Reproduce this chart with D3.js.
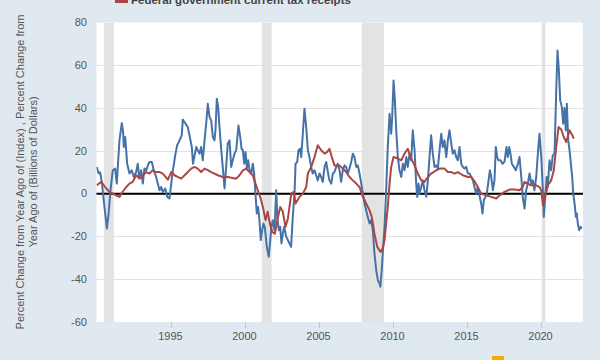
<!DOCTYPE html>
<html>
<head>
<meta charset="utf-8">
<script src="https://cdn.jsdelivr.net/npm/d3@7"></script>
<style>
  body { margin: 0; background: #e1e9f0; }
  svg { display: block; font-family: "Liberation Sans", Arial, sans-serif; }
</style>
</head>
<body>
<script>
// percent change from year ago, price index (monthly) [year, value]
const indexSeries = [
  [1990.02,12.5],[1990.14,9.5],[1990.24,10],[1990.37,5],[1990.47,-2],[1990.70,-16.3],[1990.81,-10],[1990.95,2],
  [1991.10,10.9],[1991.26,11.7],[1991.37,4.7],[1991.55,24.9],[1991.71,33],[1991.80,28.8],[1991.84,21.8],[1991.94,26.5],
  [1992.07,14],[1992.23,9.4],[1992.38,10.9],[1992.52,7.8],[1992.68,10.1],[1992.79,14],[1992.88,7.8],
  [1993.02,10.9],[1993.13,4.7],[1993.24,11.8],[1993.36,10.9],[1993.47,13.2],[1993.58,14.8],[1993.74,14.8],[1993.87,10.9],
  [1994.03,7.8],[1994.14,4.7],[1994.26,1.6],[1994.37,3.1],[1994.48,0.8],[1994.64,2.4],[1994.78,-1.5],[1994.93,-2.3],
  [1995.05,4.7],[1995.16,10.9],[1995.34,18.7],[1995.45,22.6],[1995.61,24.9],[1995.76,27.3],[1995.83,34.6],[1995.99,33],
  [1996.17,31],[1996.28,27.3],[1996.44,21.8],[1996.52,14],[1996.74,21.8],[1996.84,20.3],[1996.96,18.7],
  [1997.07,21.8],[1997.18,15.6],[1997.30,24.9],[1997.41,32.7],[1997.52,42],[1997.64,35.8],[1997.75,34.2],[1997.86,26.5],[1997.97,24.9],
  [1998.04,29.6],[1998.13,44.4],[1998.22,40.5],[1998.31,31.1],[1998.43,20.3],[1998.53,12.5],[1998.65,2.4],[1998.76,12.5],[1998.87,23.4],[1998.99,24.9],
  [1999.10,12.5],[1999.21,15.6],[1999.32,18.7],[1999.44,20.3],[1999.59,31.9],[1999.71,26.5],[1999.80,21],[1999.89,20.3],[1999.98,14],
  [2000.07,19.5],[2000.16,11.7],[2000.25,15.6],[2000.34,10.9],[2000.45,9.4],[2000.56,14],[2000.65,9.4],[2000.74,0],[2000.83,-9.3],[2000.92,-6.2],
  [2001.01,-12.4],[2001.10,-21.7],[2001.19,-17.1],[2001.28,-14],[2001.37,-15.5],[2001.51,-24.9],[2001.64,-29.5],[2001.74,-21.7],[2001.82,-15.5],[2001.91,-12.4],
  [2002.03,-17.1],[2002.14,1.6],[2002.23,-12.4],[2002.32,-17.1],[2002.41,-15.5],[2002.50,-23.3],[2002.59,-18.7],[2002.68,-15.5],[2002.82,-20.2],[2002.93,-21.7],
  [2003.04,-23.3],[2003.15,-24.9],[2003.26,-10.9],[2003.38,0],[2003.45,14],[2003.56,14.8],[2003.65,20.3],[2003.76,21],[2003.83,17.1],[2003.94,28],
  [2004.05,39.7],[2004.17,31.1],[2004.28,20.3],[2004.39,17.1],[2004.50,12.5],[2004.61,9.4],[2004.73,10.9],[2004.84,8.6],[2004.95,6.2],
  [2005.07,9.4],[2005.18,7.8],[2005.29,5.5],[2005.41,12.5],[2005.52,14.8],[2005.63,10.1],[2005.74,6.2],[2005.86,4.7],[2005.97,9.4],
  [2006.08,10.1],[2006.20,12.5],[2006.30,14],[2006.42,10.9],[2006.53,5.5],[2006.64,10.9],[2006.76,13.2],[2006.87,12.5],[2006.98,9.4],
  [2007.09,11.7],[2007.21,14.8],[2007.32,18.7],[2007.43,17.1],[2007.55,12.5],[2007.66,13.2],[2007.77,9.4],[2007.89,4.7],
  [2008.00,0],[2008.11,-4.6],[2008.22,-7.8],[2008.33,-10.9],[2008.45,-14],[2008.56,-12.4],[2008.67,-17.1],[2008.78,-28],[2008.90,-35.8],
  [2009.01,-40.4],[2009.12,-42],[2009.18,-43.5],[2009.27,-36],[2009.34,-28],[2009.46,-15.5],[2009.57,1.6],[2009.68,21.8],[2009.80,37.4],[2009.91,28],[2009.98,35.8],
  [2010.07,52.9],[2010.16,43.6],[2010.25,29.6],[2010.36,17.1],[2010.47,10.9],[2010.59,7.8],[2010.70,14],[2010.81,10.9],[2010.93,17.1],
  [2011.03,12.5],[2011.15,18.7],[2011.26,15.6],[2011.37,29.6],[2011.49,20.3],[2011.60,4.7],[2011.67,-1.5],[2011.76,4.7],[2011.82,0],[2011.94,3.1],
  [2012.05,6.2],[2012.16,1.6],[2012.28,-1.5],[2012.39,6.2],[2012.50,17.1],[2012.61,27.3],[2012.72,18.7],[2012.84,12.5],[2012.95,13.2],
  [2013.06,11.7],[2013.18,20.3],[2013.29,28],[2013.40,21.8],[2013.51,24.9],[2013.63,17.1],[2013.74,24.9],[2013.85,29.6],[2013.97,23.4],
  [2014.07,18.7],[2014.19,20.3],[2014.30,17.1],[2014.41,15.6],[2014.53,21.8],[2014.64,14],[2014.75,12.5],[2014.86,11.7],[2014.98,12.5],
  [2015.09,9.4],[2015.20,9.4],[2015.32,7.8],[2015.43,6.2],[2015.54,3],[2015.66,0],[2015.76,3.1],[2015.88,-1],[2015.99,-4.6],
  [2016.08,-9.3],[2016.17,-3],[2016.28,-1.5],[2016.37,0],[2016.49,6.2],[2016.58,10.9],[2016.67,7.8],[2016.78,1.6],[2016.89,6.2],[2016.98,21.8],
  [2017.07,17.1],[2017.16,15.6],[2017.30,15.6],[2017.43,14],[2017.57,15],[2017.70,21.8],[2017.79,17.1],[2017.89,21.8],[2017.97,18.7],
  [2018.06,14],[2018.20,12.5],[2018.33,10.9],[2018.47,14],[2018.58,17.1],[2018.70,7.8],[2018.80,-1.5],[2018.92,-7],
  [2019.03,1.6],[2019.14,4.7],[2019.26,9.4],[2019.37,4.7],[2019.48,6.2],[2019.59,1.6],[2019.71,7.8],[2019.82,18.7],[2019.93,28],
  [2020.05,17.1],[2020.16,1.6],[2020.22,-10.9],[2020.32,-1.5],[2020.41,7.8],[2020.49,3.1],[2020.61,15.6],[2020.72,10.9],[2020.83,17.9],[2020.95,18.7],
  [2021.06,48.2],[2021.15,66.9],[2021.24,57.6],[2021.33,43.6],[2021.44,40.5],[2021.53,32.7],[2021.62,40],[2021.71,29.6],[2021.78,42],[2021.87,25],[2021.96,20.3],
  [2022.05,14],[2022.14,7.8],[2022.21,0],[2022.30,-4.6],[2022.39,-10.9],[2022.45,-9.3],[2022.52,-14],[2022.61,-17.1],[2022.70,-15.5],[2022.79,-16.3]
];

// federal government current tax receipts, percent change from year ago (quarterly)
const taxSeries = [
  [1990.02,3.9],[1990.32,5.5],[1990.66,2.4],[1990.88,0.8],[1991.10,0],[1991.33,-0.8],[1991.55,-1.5],[1991.78,1],
  [1992.01,3.1],[1992.23,4.7],[1992.45,5.5],[1992.68,8.6],[1992.91,7],[1993.13,8.6],[1993.36,10.1],[1993.58,9.4],[1993.80,10.9],
  [1994.03,10.1],[1994.26,10.1],[1994.48,9.4],[1994.82,6.5],[1995.05,10.1],[1995.27,8.6],[1995.49,7.8],[1995.72,7],[1995.95,8.6],
  [1996.17,10.1],[1996.40,11.7],[1996.62,12.5],[1996.84,11.7],[1997.07,10.1],[1997.30,11.7],[1997.52,11],[1997.75,10.1],[1997.97,9.4],
  [1998.20,8.6],[1998.53,7.8],[1998.87,7.8],[1999.12,7.4],[1999.44,7],[1999.66,8.6],[1999.89,10.9],
  [2000.11,11.7],[2000.34,10.1],[2000.56,8.6],[2000.74,4.7],[2000.90,1.6],[2001.06,-1.5],[2001.24,-6.2],[2001.42,-12.4],[2001.57,-8.5],[2001.69,-13.2],[2001.87,-17.9],
  [2002.05,-18.7],[2002.23,-12],[2002.41,-6.2],[2002.59,-8.5],[2002.77,-15.5],[2002.93,-11.7],[2003.16,0],[2003.33,0.8],[2003.45,-4.6],[2003.72,-1.5],[2003.94,0],
  [2004.17,3.1],[2004.28,9.4],[2004.51,12.5],[2004.73,17.1],[2004.95,22.6],[2005.18,20.3],[2005.41,18.7],[2005.59,19.5],[2005.74,21],[2005.90,17.1],
  [2006.08,13.2],[2006.26,13.2],[2006.42,13.2],[2006.64,11.7],[2006.87,10.1],[2007.09,7.8],[2007.32,6.2],[2007.55,4.7],[2007.77,3.1],
  [2008.00,-1.5],[2008.22,-4.6],[2008.45,-7.8],[2008.60,-10.9],[2008.78,-18.7],[2008.97,-24.9],[2009.19,-27.2],[2009.34,-25.6],[2009.46,-21.7],[2009.57,-14],[2009.68,-6.2],[2009.80,4.7],[2009.91,12.5],
  [2010.07,17.1],[2010.36,16.4],[2010.59,15.6],[2010.81,18.7],[2011.03,21],[2011.26,16.4],[2011.49,13.2],[2011.71,9.4],[2011.94,6.2],
  [2012.16,5.5],[2012.39,7.8],[2012.61,9.4],[2012.95,10.9],[2013.18,11.7],[2013.51,11.7],[2013.74,10.1],[2013.97,10.1],
  [2014.19,9.4],[2014.41,10.1],[2014.75,8.6],[2015.09,7.8],[2015.32,7.8],[2015.54,5.8],[2015.76,3.1],[2015.99,0],
  [2016.33,-0.8],[2016.67,-1.5],[2017.01,-2.3],[2017.23,-0.8],[2017.57,0.8],[2017.91,1.9],[2018.24,1.9],[2018.58,1.6],[2018.80,3.1],[2018.92,5.5],
  [2019.14,4.7],[2019.37,3.9],[2019.71,3.9],[2019.93,3.1],[2020.05,1.6],[2020.16,-5.4],[2020.27,-2.3],[2020.39,0.8],[2020.49,3.9],[2020.72,6.2],[2020.90,10.9],
  [2021.06,21.8],[2021.22,31.1],[2021.40,30],[2021.57,26.5],[2021.74,24.1],[2021.96,29.6],[2022.12,27.7],[2022.25,25.7]
];

const recessions = [[1990.5, 1991.17], [2001.17, 2001.83], [2007.92, 2009.42], [2020.08, 2020.33]];
const yTicks = [-60, -40, -20, 0, 20, 40, 60, 80];
const xTicks = [1995, 2000, 2005, 2010, 2015, 2020];
const legendLabel = "Federal government current tax receipts";
const yTitle = ["Percent Change from Year Ago of (Index) , Percent Change from", "Year Ago of (Billions of Dollars)"];

const width = 600, height = 360;
const plotL = 96.5, plotR = 583, plotT = 22.5, plotB = 322;

const x = d3.scaleLinear().domain([1990, 2022.87]).range([plotL, plotR]);
const y = d3.scaleLinear().domain([-60, 80]).range([plotB, plotT]);

const svg = d3.select("body").append("svg")
    .attr("width", width)
    .attr("height", height);

svg.append("rect")
    .attr("x", plotL).attr("y", plotT)
    .attr("width", plotR - plotL).attr("height", plotB - plotT)
    .attr("fill", "#fff");

svg.append("defs").append("clipPath").attr("id", "plot")
  .append("rect")
    .attr("x", plotL).attr("y", plotT)
    .attr("width", plotR - plotL).attr("height", plotB - plotT);

// recession bars
svg.append("g").attr("clip-path", "url(#plot)")
  .selectAll("rect").data(recessions).enter().append("rect")
    .attr("x", d => x(d[0]))
    .attr("width", d => x(d[1]) - x(d[0]))
    .attr("y", plotT).attr("height", plotB - plotT)
    .attr("fill", "#e3e3e3");

// horizontal grid
svg.append("g").selectAll("line").data(yTicks.filter(d => d > -60 && d < 80)).enter().append("line")
    .attr("x1", plotL).attr("x2", plotR)
    .attr("y1", d => Math.round(y(d)) + 0.5).attr("y2", d => Math.round(y(d)) + 0.5)
    .attr("stroke", "#e2e2e2");

// y tick labels
svg.append("g").selectAll("text").data(yTicks).enter().append("text")
    .attr("x", 87).attr("y", d => y(d))
    .attr("dy", "0.35em")
    .attr("text-anchor", "end")
    .attr("font-size", 11)
    .attr("fill", "#555")
    .text(d => d);

// x ticks + labels
const xt = svg.append("g").selectAll("g").data(xTicks).enter().append("g");
xt.append("line")
    .attr("x1", d => Math.round(x(d)) + 0.5).attr("x2", d => Math.round(x(d)) + 0.5)
    .attr("y1", plotB).attr("y2", plotB + 6)
    .attr("stroke", "#c8c8c8");
xt.append("text")
    .attr("x", d => x(d)).attr("y", 340)
    .attr("text-anchor", "middle")
    .attr("font-size", 11)
    .attr("fill", "#555")
    .text(d3.format("d"));

// zero line
svg.append("line")
    .attr("x1", plotL).attr("x2", plotR)
    .attr("y1", y(0)).attr("y2", y(0))
    .attr("stroke", "#000").attr("stroke-width", 2);

const line = d3.line()
    .x(d => x(d[0]))
    .y(d => y(d[1]));

const lines = svg.append("g").attr("clip-path", "url(#plot)");
lines.append("path")
    .attr("d", line(indexSeries))
    .attr("fill", "none")
    .attr("stroke", "#4572a7")
    .attr("stroke-width", 2)
    .attr("stroke-linejoin", "round");
lines.append("path")
    .attr("d", line(taxSeries))
    .attr("fill", "none")
    .attr("stroke", "#aa4643")
    .attr("stroke-width", 2)
    .attr("stroke-linejoin", "round");

// y axis title
yTitle.forEach(function(t, i) {
  svg.append("text")
      .attr("transform", "translate(" + (20 + i * 13) + ",172) rotate(-90)")
      .attr("text-anchor", "middle")
      .attr("dy", "0.35em")
      .attr("font-size", 11)
      .attr("fill", "#555")
      .text(t);
});

// legend (cut off at the top)
svg.append("rect")
    .attr("x", 115).attr("y", -3).attr("width", 13).attr("height", 6)
    .attr("fill", "#aa4643");
svg.append("text")
    .attr("x", 131).attr("y", 4)
    .attr("font-size", 11.5)
    .attr("font-weight", "bold")
    .attr("fill", "#444")
    .text(legendLabel);

// logo stub
svg.append("rect")
    .attr("x", 492).attr("y", 356).attr("width", 12).attr("height", 4)
    .attr("fill", "#f2a900");
</script>
</body>
</html>
